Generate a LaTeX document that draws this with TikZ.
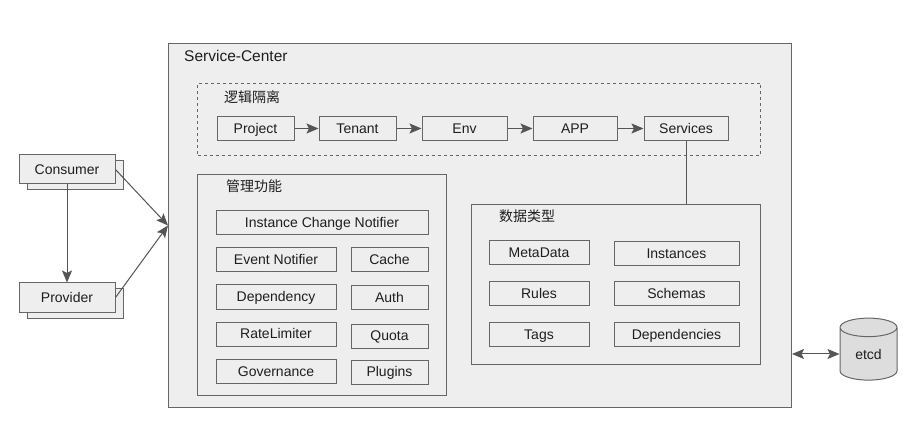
\documentclass[tikz,border=0pt]{standalone}
\usepackage{fontspec}
\setmainfont{Liberation Sans}
\newfontfamily\cjk{Noto Sans CJK SC}
\usetikzlibrary{positioning, arrows.meta, shapes.geometric, shadows}
\definecolor{BoxFill}{RGB}{238, 238, 238}
\definecolor{BoxLine}{RGB}{102, 102, 102}
\definecolor{EtcdFill}{RGB}{221, 221, 221}
\definecolor{ArrowLine}{RGB}{85, 85, 85}
\definecolor{TextDark}{RGB}{30, 30, 30}

\tikzset{
    item/.style={draw=BoxLine, fill=BoxFill, line width=1pt, minimum height=24pt, inner sep=0pt, text height=11pt, text depth=1.5pt, text=TextDark, font=\fontsize{14}{16}\selectfont},
    group/.style={draw=BoxLine, fill=BoxFill, line width=1pt, inner sep=0pt, anchor=north west},
    title/.style={anchor=west, inner sep=0pt, text=TextDark, font=\fontsize{14}{16}\selectfont},
    link/.style={draw=ArrowLine, line width=1pt, -{Stealth[length=12pt, width=10pt, inset=2.5pt]}},
}

\begin{document}
\begin{tikzpicture}[x=1pt, y=-1pt]
        \useasboundingbox (0,0) rectangle (918,438);

        % Outer container
        \node[group, minimum width=623pt, minimum height=364pt] (sc) at (168,43) {};
        \node[title, font=\fontsize{15.5}{17}\selectfont] (sctitle) at (184,56) {Service-Center};

        % Logical isolation
        \node[group, dashed, minimum width=563pt, minimum height=72pt] (iso) at (197,83) {};
        \node[title] (isotitle) at (224,97) {\cjk 逻辑隔离};
        \node[item, minimum width=77pt] (project) at (255.5,128.5) {Project};
        \node[item, minimum width=77pt] (tenant) at (357.5,128.5) {Tenant};
        \node[item, minimum width=85pt] (env) at (464.5,128.5) {Env};
        \node[item, minimum width=84pt] (app) at (575,128.5) {APP};
        \node[item, minimum width=84pt] (services) at (686,128.5) {Services};

        % Management functions
        \node[group, minimum width=249pt, minimum height=221pt] (mgmt) at (197,174) {};
        \node[title] (mgmttitle) at (226,186) {\cjk 管理功能};
        \node[item, minimum width=212pt] (icn) at (322,222.5) {Instance Change Notifier};
        \node[item, minimum width=120pt] (event) at (276,259.5) {Event Notifier};
        \node[item, minimum width=77pt] (cache) at (389.5,259.5) {Cache};
        \node[item, minimum width=120pt] (dependency) at (276,297) {Dependency};
        \node[item, minimum width=77pt] (auth) at (389.5,297.5) {Auth};
        \node[item, minimum width=120pt] (ratelimiter) at (276,334) {RateLimiter};
        \node[item, minimum width=77pt] (quota) at (389.5,336) {Quota};
        \node[item, minimum width=120pt] (governance) at (276,371.5) {Governance};
        \node[item, minimum width=77pt] (plugins) at (389.5,372) {Plugins};

        % Data types
        \node[group, minimum width=289pt, minimum height=160pt] (data) at (471,204) {};
        \node[title] (datatitle) at (499,216) {\cjk 数据类型};
        \node[item, minimum width=100pt] (metadata) at (539,252.5) {MetaData};
        \node[item, minimum width=125pt] (instances) at (676.5,254) {Instances};
        \node[item, minimum width=100pt] (rules) at (539,293.5) {Rules};
        \node[item, minimum width=125pt] (schemas) at (676.5,293.5) {Schemas};
        \node[item, minimum width=100pt] (tags) at (539,334.5) {Tags};
        \node[item, minimum width=125pt] (dependencies) at (676.5,334.5) {Dependencies};

        % Clients
        \node[item, minimum width=96pt, minimum height=29pt, copy shadow={shadow xshift=8pt, shadow yshift=-6pt, fill=BoxFill, draw=BoxLine, line width=1pt}] (consumer) at (67,169.5) {Consumer};
        \node[item, minimum width=96pt, minimum height=29pt, copy shadow={shadow xshift=8pt, shadow yshift=-6pt, fill=BoxFill, draw=BoxLine, line width=1pt}] (provider) at (67,297.5) {Provider};

        % Storage
        \node[cylinder, shape border rotate=90, aspect=0.7, draw=BoxLine, fill=EtcdFill, line width=1pt, minimum width=57pt, minimum height=62pt, inner sep=0pt, text height=11pt, text depth=0pt, text=TextDark, font=\fontsize{14}{16}\selectfont] (etcd) at (868.5,354) {etcd};

        % Connectors
        \foreach \from/\to in {project/tenant, tenant/env, env/app, app/services}
            \draw[link] (\from) -- (\to);
        \draw[draw=ArrowLine, line width=1pt] (services.south) -- (services.south |- data.north);
        \draw[link] (consumer) -- (provider);
        \draw[link] (consumer.east) -- (sc.west);
        \draw[link] (provider.east) -- (sc.west);
        \draw[link, {Stealth[length=12pt, width=10pt, inset=2.5pt]}-{Stealth[length=12pt, width=10pt, inset=2.5pt]}] (etcd.west -| sc.east) -- (etcd.west);
    \end{tikzpicture}
\end{document}
